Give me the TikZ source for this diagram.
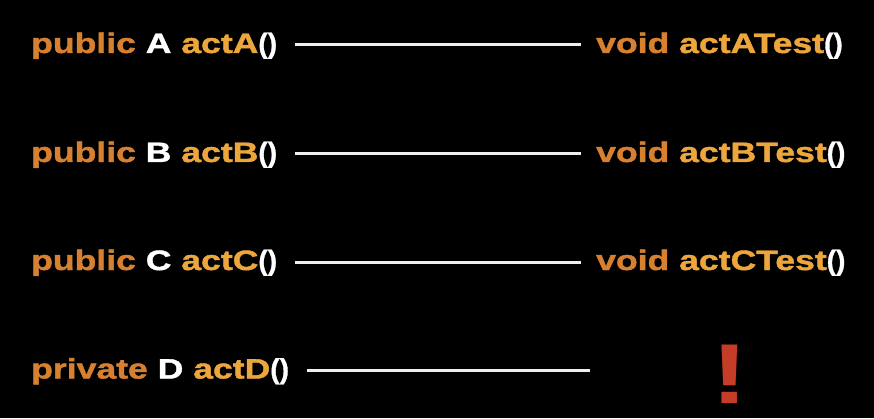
\documentclass[tikz,border=0pt]{standalone}
\usepackage{fontspec}
\newfontfamily\widefont{Liberation Sans}[FakeStretch=1.27,FakeBold=1.5]
\newfontfamily\plainfont{Liberation Sans}[FakeBold=1.2]
\newfontfamily\bangfont{Liberation Sans}[FakeStretch=1.3]
\definecolor{kwdark}{RGB}{214,128,48}
\definecolor{kwlight}{RGB}{236,166,60}
\definecolor{linewhite}{RGB}{238,238,238}
\definecolor{alertred}{RGB}{197,61,39}
\newcommand{\kw}[1]{{\color{kwdark}#1}}
\newcommand{\nm}[1]{{\color{kwlight}#1}}
\newcommand{\ty}[1]{{\color{white}#1}}
\newcommand{\pr}{{\plainfont\bfseries\color{white}()}}
\begin{document}
\begin{tikzpicture}[x=1pt,y=1pt,
  sig/.style={inner xsep=0pt, inner ysep=0pt, text height=21pt, text depth=5pt,
    font=\widefont\bfseries\fontsize{28}{30}\selectfont},
  lsig/.style={sig, anchor=base west},
  link/.style={draw=linewhite, line width=3pt, shorten <=18pt, shorten >=15pt},
  alert/.style={anchor=base, inner sep=0pt, text depth=0pt, text=alertred,
    font=\bangfont\bfseries\fontsize{85}{90}\selectfont}]
\fill[black] (0,0) rectangle (874,418);
\useasboundingbox (0,0) rectangle (874,418);
% rows: baselines at image y = 53, 162, 270, 378.5
\node[lsig] (lA) at (31,365) {\kw{public} \ty{A} \nm{actA}\pr};
\node[lsig] (rA) at (596,365) {\kw{void} \nm{actATest}\pr};
\node[lsig] (lB) at (31,256) {\kw{public} \ty{B} \nm{actB}\pr};
\node[lsig] (rB) at (596,256) {\kw{void} \nm{actBTest}\pr};
\node[lsig] (lC) at (31,148) {\kw{public} \ty{C} \nm{actC}\pr};
\node[lsig] (rC) at (596,148) {\kw{void} \nm{actCTest}\pr};
\node[lsig] (lD) at (31,39.5) {\kw{private} \ty{D} \nm{actD}\pr};
\coordinate (eD) at (605,47.5);
\node[alert] (bang) at (730,15) {!};
\draw[link] (lA.east) -- (rA.west);
\draw[link] (lB.east) -- (rB.west);
\draw[link] (lC.east) -- (rC.west);
\draw[link] (lD.east) -- (eD);
\end{tikzpicture}
\end{document}
